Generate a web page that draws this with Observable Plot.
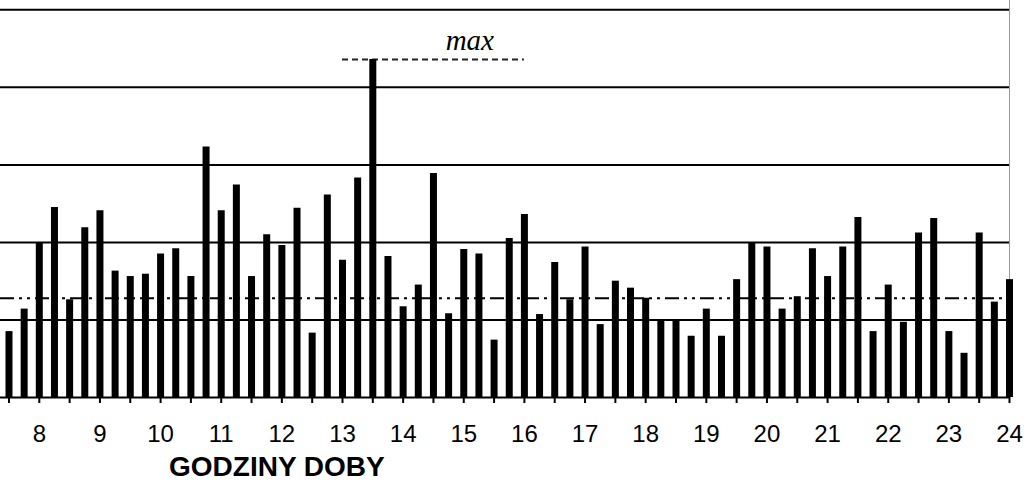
<!DOCTYPE html>
<html>
<head>
<meta charset="utf-8">
<script src="https://cdn.jsdelivr.net/npm/d3@7"></script>
<script src="https://cdn.jsdelivr.net/npm/@observablehq/plot@0.6"></script>
<style>
  html, body { margin: 0; padding: 0; background: #fff; }
  #wrap { position: relative; width: 1024px; height: 500px; overflow: hidden; }
  #xlabel { position: absolute; left: 169px; top: 453px; font-family: "Liberation Sans", Arial, sans-serif;
            font-weight: bold; font-size: 28px; line-height: 28px; color: #000; white-space: nowrap; }
</style>
</head>
<body>
<div id="wrap"><div id="chart"></div><div id="xlabel">GODZINY DOBY</div></div>
<script>
// quarter-hour time stamps (hours of day)
const times = [7.5,7.75,8,8.25,8.5,8.75,9,9.25,9.5,9.75,10,10.25,10.5,10.75,11,11.25,11.5,11.75,
  12,12.25,12.5,12.75,13,13.25,13.5,13.75,14,14.25,14.5,14.75,15,15.25,15.5,15.75,16,16.25,16.5,16.75,
  17,17.25,17.5,17.75,18,18.25,18.5,18.75,19,19.25,19.5,19.75,20,20.25,20.5,20.75,21,21.25,21.5,21.75,
  22,22.25,22.5,22.75,23,23.25,23.5,23.75,24];
// bar values (gridline units)
const values = [0.85,1.14,1.99,2.45,1.26,2.19,2.41,1.63,1.56,1.59,
  1.85,1.92,1.56,3.23,2.41,2.74,1.56,2.10,1.96,2.44,
  0.83,2.61,1.77,2.83,4.36,1.82,1.17,1.45,2.89,1.08,
  1.91,1.85,0.74,2.05,2.36,1.07,1.74,1.26,1.94,0.94,
  1.50,1.41,1.28,0.98,0.98,0.79,1.14,0.79,1.52,2.00,
  1.94,1.14,1.30,1.92,1.56,1.94,2.32,0.85,1.45,0.97,
  2.12,2.31,0.85,0.57,2.12,1.23,1.52];
const hourLabels = [8,9,10,11,12,13,14,15,16,17,18,19,20,21,22,23,24];
const halfHourTicks = [7.5,8,8.5,9,9.5,10,10.5,11,11.5,12,12.5,13,13.5,14,14.5,15,15.5,16,16.5,17,17.5,
  18,18.5,19,19.5,20,20.5,21,21.5,22,22.5,23,23.5,24];
const gridValues = [1,2,3,4,5];
const averageValue = 1.28;
const maxLineFrom = 13, maxLineTo = 16;
const maxLabelAt = 15.1;
const xDomain = [7.36, 24];
const yDomain = [0, 5.12];

const data = times.map((t, i) => ({t, v: values[i]}));
const maxVal = d3.max(values);

const chart = Plot.plot({
  width: 1024,
  height: 450,
  marginLeft: 0,
  marginRight: 15,
  marginTop: 0,
  marginBottom: 53,
  style: {fontFamily: "Liberation Sans, Arial, sans-serif", color: "#000", background: "#fff"},
  x: {domain: xDomain, label: null},
  y: {domain: yDomain, axis: null},
  marks: [
    Plot.ruleX([24], {stroke: "#999", strokeWidth: 1}),
    Plot.ruleY(gridValues, {stroke: "#000", strokeWidth: 2}),
    Plot.ruleY([averageValue], {stroke: "#000", strokeWidth: 2, strokeDasharray: "14,5,3,5,3,5"}),
    Plot.ruleY([maxVal], {x1: maxLineFrom, x2: maxLineTo, stroke: "#222", strokeWidth: 2, strokeDasharray: "6,4"}),
    Plot.text([maxVal], {x: maxLabelAt, y: d => d, text: () => "max", dy: -9, lineAnchor: "bottom",
      fontFamily: "Liberation Serif, Times New Roman, serif", fontStyle: "italic", fontSize: 29, fill: "#000"}),
    Plot.ruleX(data, {x: "t", y1: 0, y2: "v", stroke: "#000", strokeWidth: 7}),
    Plot.ruleY([0], {stroke: "#000", strokeWidth: 2}),
    Plot.axisX({ticks: halfHourTicks, tickFormat: () => "", tickSize: 6, strokeWidth: 2, label: null}),
    Plot.axisX({ticks: hourLabels, tickSize: 0, tickPadding: 27, fontSize: 24, label: null})
  ]
});
document.getElementById("chart").appendChild(chart);
</script>
</body>
</html>
